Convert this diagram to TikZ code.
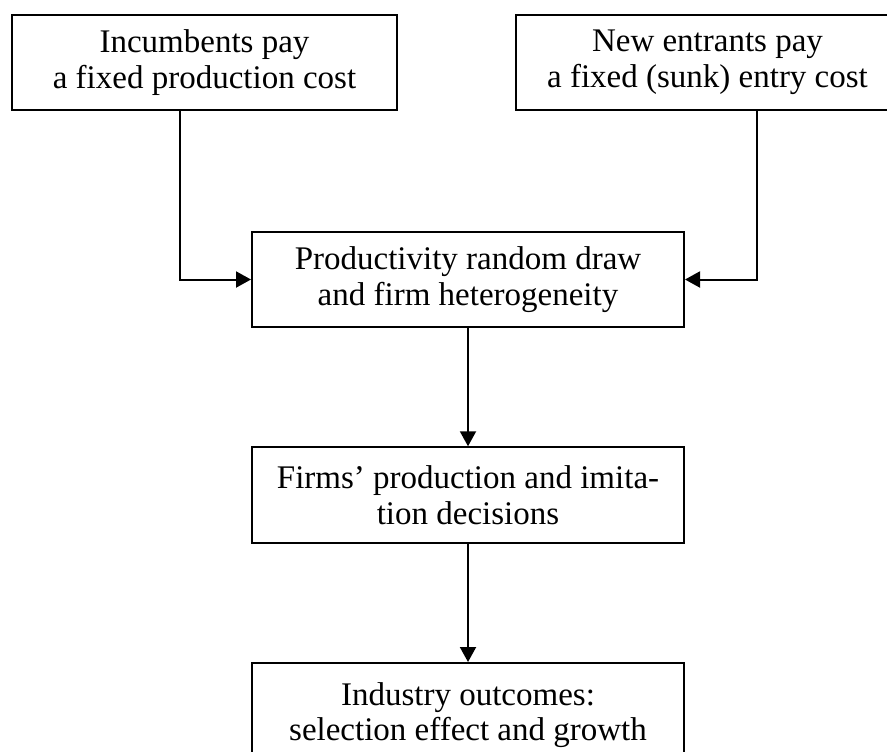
\documentclass[tikz,border=0pt]{standalone}
\usepackage{fontspec}
\setmainfont{Liberation Serif}
\usetikzlibrary{arrows.meta}
\definecolor{ink}{HTML}{000000}
\tikzset{
  box/.style={draw=ink, line width=1pt, align=center, inner sep=0pt,
    font=\fontsize{16.5}{17.8}\selectfont},
  topbox/.style={box, minimum width=192.5pt, minimum height=47.5pt},
  midbox/.style={box, minimum width=216pt, minimum height=47.75pt},
  flow/.style={draw=ink, line width=1pt, -{Triangle[length=7.5pt,width=8pt]}},
}

\begin{document}
\begin{tikzpicture}[x=0.5pt,y=-0.5pt]
  \clip (0,0) rectangle (887,751);
  % cost side
  \node[topbox] (inc) at (204.5,62.5) {Incumbents pay\\a fixed production cost};
  \node[topbox,minimum width=191.5pt] (ent) at (707.5,62.5) {New entrants pay\\a fixed (sunk) entry cost};
  % chain
  \node[midbox] (prod) at (468,279.5) {Productivity random draw\\and firm heterogeneity};
  \node[midbox] (firms) at (468,495) {Firms’ production and imita-\\tion decisions};
  \node[midbox,minimum height=52pt] (outc) at (468,715) {Industry outcomes:\\selection effect and growth};
  \draw[flow] ([xshift=-12.25pt]inc.south) |- (prod.west);
  \draw[flow] ([xshift=24.75pt]ent.south) |- (prod.east);
  \draw[flow] (prod.south) -- (firms.north);
  \draw[flow] (firms.south) -- (outc.north);
\end{tikzpicture}
\end{document}
